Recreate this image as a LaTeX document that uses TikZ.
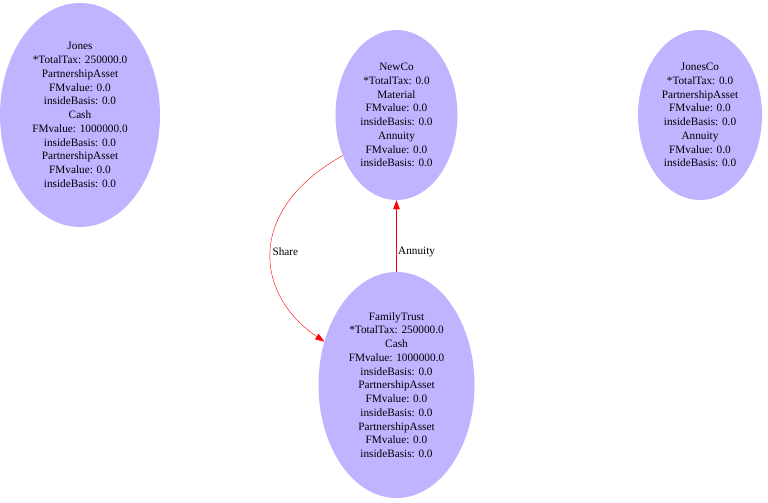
\documentclass[tikz,border=0pt]{standalone}
\usepackage{fontspec}
\setmainfont{Liberation Serif}
\usetikzlibrary{arrows.meta,shapes.geometric}
\definecolor{acctfill}{HTML}{C0B3FF}
\definecolor{flowred}{HTML}{FF0000}

\begin{document}
\begin{tikzpicture}[x=1bp,y=-1bp,font=\fontsize{11.3}{13.8}\selectfont,
    acct/.style={ellipse,fill=acctfill,inner sep=0pt,align=center},
    flow/.style={draw=flowred,-{Triangle[length=9bp,width=6.5bp]}},
    flowlbl/.style={inner sep=1.5pt,anchor=west}]
        \useasboundingbox (0,0) rectangle (768,503);
        \node[acct,minimum width=160bp,minimum height=224bp] (jones) at (80,115)
          {Jones\\*TotalTax: 250000.0\\PartnershipAsset\\FMvalue: 0.0\\insideBasis: 0.0\\Cash\\FMvalue: 1000000.0\\insideBasis: 0.0\\PartnershipAsset\\FMvalue: 0.0\\insideBasis: 0.0};
        \node[acct,minimum width=122bp,minimum height=170bp] (newco) at (396.5,115)
          {NewCo\\*TotalTax: 0.0\\Material\\FMvalue: 0.0\\insideBasis: 0.0\\Annuity\\FMvalue: 0.0\\insideBasis: 0.0};
        \node[acct,minimum width=124bp,minimum height=170bp] (jonesco) at (700,115)
          {JonesCo\\*TotalTax: 0.0\\PartnershipAsset\\FMvalue: 0.0\\insideBasis: 0.0\\Annuity\\FMvalue: 0.0\\insideBasis: 0.0};
        \node[acct,minimum width=156bp,minimum height=226bp] (trust) at (396.5,385)
          {FamilyTrust\\*TotalTax: 250000.0\\Cash\\FMvalue: 1000000.0\\insideBasis: 0.0\\PartnershipAsset\\FMvalue: 0.0\\insideBasis: 0.0\\PartnershipAsset\\FMvalue: 0.0\\insideBasis: 0.0};
        \draw[flow] (trust) -- node[flowlbl,pos=.28] (annlbl) {Annuity} (newco);
        \draw[flow] (newco.217) .. controls (245,210) and (255,295) .. node[flowlbl,pos=.5] (sharelbl) {Share} (trust.149);
      \end{tikzpicture}
\end{document}
